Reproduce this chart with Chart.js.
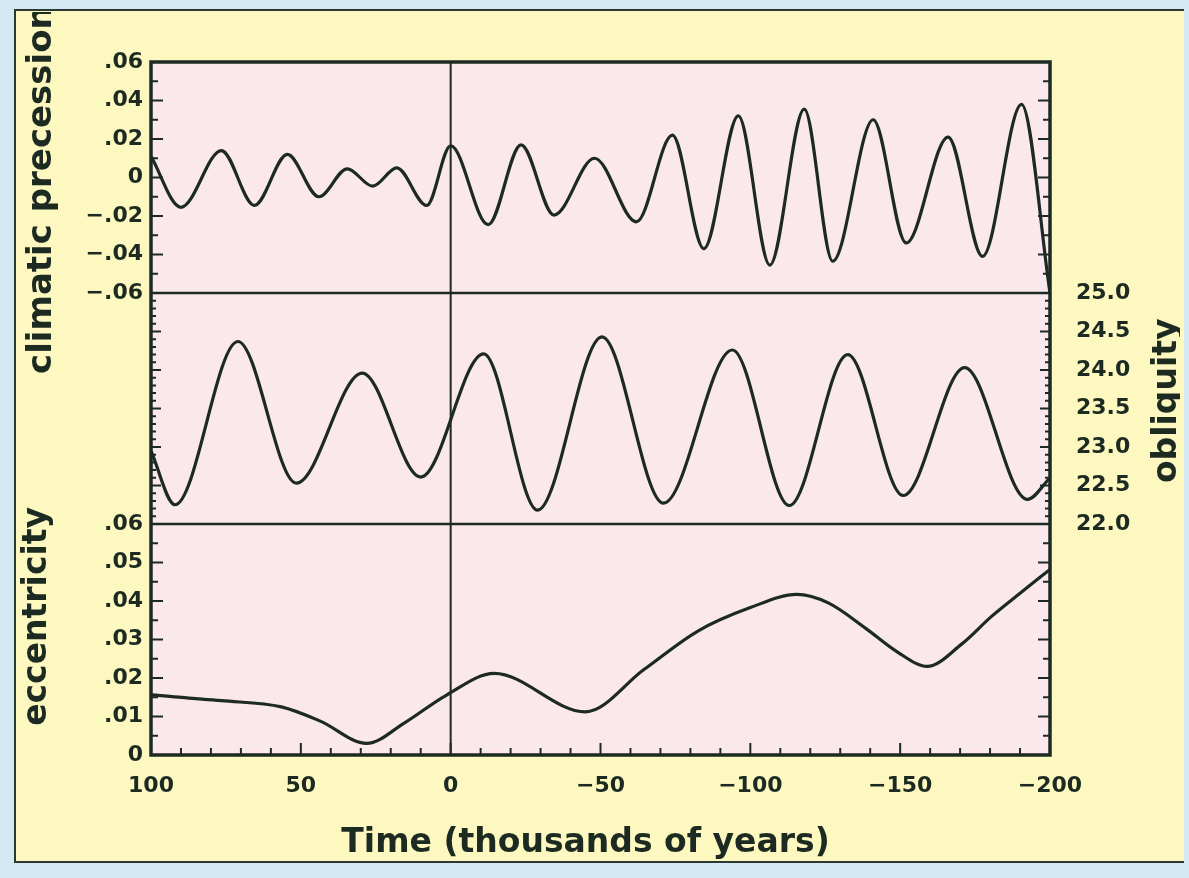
<!DOCTYPE html>
<html>
<head>
<meta charset="utf-8">
<title>Orbital parameters</title>
<script src="https://cdn.jsdelivr.net/npm/chart.js@4.4.1/dist/chart.umd.min.js"></script>
<style>
  html, body { margin: 0; padding: 0; }
  body { width: 1189px; height: 878px; background: #d5e9f4; position: relative; overflow: hidden; }
  #panel { position: absolute; left: 14px; top: 9px; width: 1170px; height: 854px; background: #fcf8c0;
           border: 2px solid #2a3a30; border-right: none; box-sizing: border-box; }
  #chart { position: absolute; left: 20px; top: 12px; }
</style>
</head>
<body>
<div id="panel"></div>
<canvas id="chart" width="1160" height="848"></canvas>
<script>
// values; time in thousands of years (positive = future)
const precYears = [100, 90, 76.5, 65.5, 54.5, 44, 34.5, 26, 18, 8, 0, -12.5, -23.5, -34.5, -48, -62, -74,
                   -84.5, -96, -106.5, -118, -127.5, -141, -152, -166, -177.5, -190.5, -200];
const precValues = [0.011, -0.0155, 0.014, -0.0145, 0.012, -0.010, 0.0045, -0.0045, 0.005, -0.0145, 0.0165,
                    -0.0245, 0.017, -0.0195, 0.010, -0.023, 0.022, -0.037, 0.032, -0.0455, 0.0355, -0.0435,
                    0.030, -0.034, 0.021, -0.041, 0.038, -0.06];

const oblYears = [100, 92, 71, 51.5, 29.5, 10, -11, -29, -50.5, -71, -94, -113, -132.5, -151, -171.5, -192.5, -200];
const oblValues = [22.95, 22.25, 24.37, 22.53, 23.96, 22.61, 24.21, 22.18, 24.43, 22.27, 24.26, 22.24, 24.2,
                   22.37, 24.03, 22.32, 22.6];

const eccYears = [100, 76.5, 56.5, 43.5, 28, 15.5, 1.5, -14.5, -45, -64.5, -82.5, -100, -115.5, -126,
                  -138.5, -149, -159, -170.5, -180.5, -190, -200];
const eccValues = [0.0156, 0.0141, 0.0125, 0.0088, 0.0030, 0.0083, 0.0155, 0.0212, 0.0112, 0.0222, 0.0322,
                   0.0383, 0.0417, 0.0395, 0.0329, 0.0268, 0.0230, 0.0288, 0.0360, 0.0420, 0.0482];

// tick labels
const timeTicks = [-200, -150, -100, -50, 0, 50, 100];
const timeTickLabels = ['−200', '−150', '−100', '−50', '0', '50', '100'];
const precTicks = [-0.06, -0.04, -0.02, 0, 0.02, 0.04, 0.06];
const precTickLabels = ['−.06', '−.04', '−.02', '0', '.02', '.04', '.06'];
const oblTicks = [22.0, 22.5, 23.0, 23.5, 24.0, 24.5, 25.0];
const oblTickLabels = ['22.0', '22.5', '23.0', '23.5', '24.0', '24.5', '25.0'];
const eccTicks = [0, 0.01, 0.02, 0.03, 0.04, 0.05, 0.06];
const eccTickLabels = ['0', '.01', '.02', '.03', '.04', '.05', '.06'];

const ink = '#1c2a22';
const tickFont = { family: 'DejaVu Sans', size: 22, weight: 'bold' };

function series(years, values) {
    return years.map((t, i) => ({ x: t, y: values[i] }));
}

// y axis living in one third of the plot (stacked), labels from fixed arrays
function stackedAxis(position, weight, min, max, values, labels, pad) {
    return {
        type: 'linear',
        position: position,
        stack: position,
        stackWeight: 1,
        weight: weight,
        min: min,
        max: max,
        grid: { display: false, drawTicks: false },
        border: { display: false },
        afterBuildTicks: s => { if (values) s.ticks = values.map(v => ({ value: v })); },
        afterFit: s => { s.width = 80; },
        ticks: {
            display: !!labels,
            autoSkip: false,
            padding: pad,
            color: ink,
            font: tickFont,
            callback: (v, i) => labels ? labels[i] : ''
        }
    };
}

function yTicks(ctx, scale, a, from, step, count, every, major, minor) {
    for (let i = 0; i <= count; i++) {
        const y = scale.getPixelForValue(from + i * step);
        const len = i % every === 0 ? major : minor;
        ctx.beginPath();
        ctx.moveTo(a.left, y);
        ctx.lineTo(a.left + len, y);
        ctx.moveTo(a.right, y);
        ctx.lineTo(a.right - len, y);
        ctx.stroke();
    }
}

function verticalText(ctx, text, x, y, align) {
    ctx.save();
    ctx.translate(x, y);
    ctx.rotate(-Math.PI / 2);
    ctx.textAlign = align;
    ctx.textBaseline = 'middle';
    ctx.fillText(text, 0, 0);
    ctx.restore();
}

const panelsPlugin = {
    id: 'panels',
    beforeDraw(chart) {
        const { ctx, chartArea: a } = chart;
        ctx.save();
        ctx.fillStyle = '#fae8ed';
        ctx.fillRect(a.left, a.top, a.width, a.height);
        ctx.restore();
    },
    beforeDatasetsDraw(chart) {
        const { ctx, chartArea: a, scales } = chart;
        ctx.save();
        ctx.strokeStyle = ink;
        ctx.lineWidth = 2.5;
        // panel separators
        [scales.yP.getPixelForValue(-0.06), scales.yE.getPixelForValue(0.06)].forEach(y => {
            ctx.beginPath();
            ctx.moveTo(a.left, y);
            ctx.lineTo(a.right, y);
            ctx.stroke();
        });
        // present day
        const x0 = scales.x.getPixelForValue(0);
        ctx.lineWidth = 2;
        ctx.beginPath();
        ctx.moveTo(x0, a.top);
        ctx.lineTo(x0, a.bottom);
        ctx.stroke();
        ctx.restore();
    },
    afterDatasetsDraw(chart) {
        const { ctx, chartArea: a, scales } = chart;
        ctx.save();
        ctx.strokeStyle = ink;
        ctx.lineWidth = 3.5;
        ctx.strokeRect(a.left, a.top, a.width, a.height);

        // inward tick marks
        ctx.lineWidth = 2;
        yTicks(ctx, scales.yP, a, -0.06, 0.01, 12, 2, 12, 7);
        yTicks(ctx, scales.yO, a, 22, 0.1, 30, 5, 10, 5);
        yTicks(ctx, scales.yE, a, 0, 0.005, 12, 2, 12, 7);
        for (let i = 0; i <= 30; i++) {
            const x = scales.x.getPixelForValue(-200 + i * 10);
            ctx.beginPath();
            ctx.moveTo(x, a.bottom);
            ctx.lineTo(x, a.bottom - (i % 5 === 0 ? 12 : 7));
            ctx.stroke();
        }

        // axis titles
        ctx.fillStyle = ink;
        ctx.font = 'bold 34px "DejaVu Sans"';
        verticalText(ctx, 'climatic precession', a.left - 109, 362, 'left');
        ctx.font = 'bold 33px "DejaVu Sans"';
        verticalText(ctx, 'eccentricity', a.left - 114, scales.yE.getPixelForValue(0.036), 'center');
        verticalText(ctx, 'obliquity', a.right + 117, scales.yO.getPixelForValue(23.6), 'center');
        ctx.textAlign = 'center';
        ctx.textBaseline = 'middle';
        ctx.fillText('Time (thousands of years)', scales.x.getPixelForValue(-45), a.bottom + 88);
        ctx.restore();
    }
};

const lineStyle = {
    borderColor: ink,
    borderWidth: 3.2,
    pointRadius: 0,
    fill: false,
    cubicInterpolationMode: 'monotone'
};

new Chart(document.getElementById('chart'), {
    type: 'line',
    data: {
        datasets: [
            Object.assign({ label: 'climatic precession', data: series(precYears, precValues), yAxisID: 'yP' }, lineStyle),
            Object.assign({ label: 'obliquity', data: series(oblYears, oblValues), yAxisID: 'yO' }, lineStyle),
            Object.assign({ label: 'eccentricity', data: series(eccYears, eccValues), yAxisID: 'yE' }, lineStyle)
        ]
    },
    options: {
        responsive: false,
        animation: false,
        layout: { padding: { left: 51, right: 50, top: 50, bottom: 55 } },
        plugins: { legend: { display: false }, tooltip: { enabled: false } },
        scales: {
            x: {
                type: 'linear',
                position: 'bottom',
                min: -200,
                max: 100,
                reverse: true,
                grid: { display: false, drawTicks: false },
                border: { display: false },
                afterBuildTicks: s => { s.ticks = timeTicks.map(v => ({ value: v })); },
                afterFit: s => { s.height = 50; },
                ticks: {
                    autoSkip: false,
                    maxRotation: 0,
                    padding: 18,
                    color: ink,
                    font: tickFont,
                    callback: (v, i) => timeTickLabels[i]
                }
            },
            yP: stackedAxis('left', 3, -0.06, 0.06, precTicks, precTickLabels, 8),
            yOL: stackedAxis('left', 2, 22, 25, null, null, 8),
            yE: stackedAxis('left', 1, 0, 0.06, eccTicks, eccTickLabels, 8),
            yRT: stackedAxis('right', 1, 0, 1, null, null, 26),
            yO: stackedAxis('right', 2, 22, 25, oblTicks, oblTickLabels, 26),
            yRB: stackedAxis('right', 3, 0, 1, null, null, 26)
        }
    },
    plugins: [panelsPlugin]
});
</script>
</body>
</html>
